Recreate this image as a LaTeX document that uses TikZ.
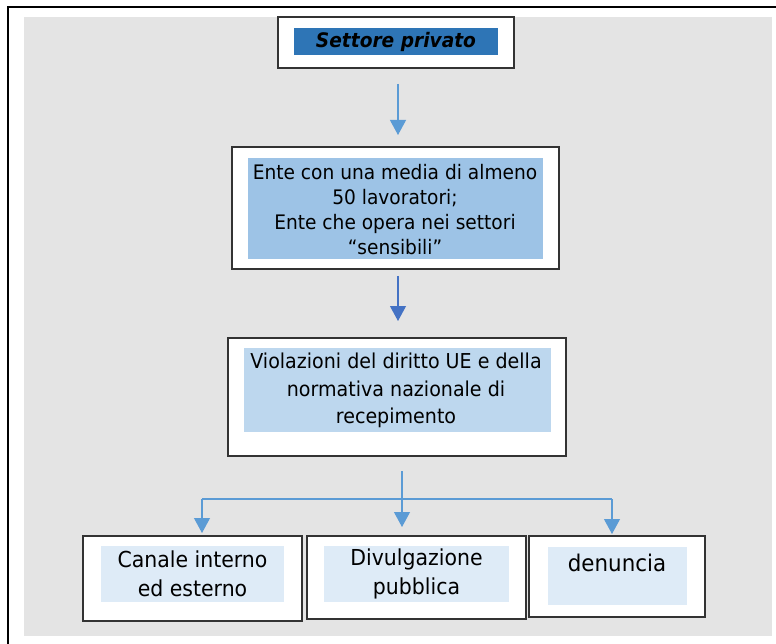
\documentclass[tikz,border=0pt]{standalone}
\usepackage{fontspec}
\setmainfont{DejaVu Sans}[FakeStretch=0.93, ItalicFont={DejaVu Sans Oblique}, BoldFont={DejaVu Sans Bold}, BoldItalicFont={DejaVu Sans Bold Oblique}]
\usetikzlibrary{arrows.meta}
\definecolor{bggray}{HTML}{E4E4E4}
\definecolor{dkblue}{HTML}{2E75B6}
\definecolor{midblue}{HTML}{9DC3E6}
\definecolor{ltblue}{HTML}{BDD7EE}
\definecolor{paleblue}{HTML}{DEEBF7}
\definecolor{arrblue}{HTML}{5B9BD5}
\definecolor{arrblue2}{HTML}{4472C4}
\begin{document}
\begin{tikzpicture}[x=1pt,y=-1pt,
  obox/.style={draw=black!80, line width=1.3pt, fill=white, inner sep=0pt, outer sep=0pt},
  ibox/.style={draw=none, inner sep=0pt, outer sep=0pt},
  txt/.style={inner sep=0pt, outer sep=0pt, align=center, text=black},
  conn/.style={draw=arrblue, line width=1.1pt},
  tip/.style={-{Triangle[width=16pt,length=15pt]}}
]
\useasboundingbox (0,0) rectangle (776,644);
% background
\fill[bggray] (24,17) rectangle (772,636);
\draw[line width=2.2pt] (8,644) -- (8,7) -- (776,7);

% box 1
\node[obox, minimum width=236pt, minimum height=51pt] (b1) at (396,42.5) {};
\node[ibox, fill=dkblue, minimum width=204pt, minimum height=27pt] (i1) at (396,41.5) {};
\node[txt, font=\fontsize{20}{24}\selectfont\bfseries\itshape] (t1) at (396,42) {Settore privato};

% box 2
\node[obox, minimum width=327pt, minimum height=122pt] (b2) at (395.5,208) {};
\node[ibox, fill=midblue, minimum width=295pt, minimum height=101pt] (i2) at (395.5,208.5) {};
\node[txt, font=\fontsize{20}{25}\selectfont] (t2) at (395,209.5) {Ente con una media di almeno\\50 lavoratori;\\Ente che opera nei settori\\\char"201C sensibili\char"201D};

% box 3
\node[obox, minimum width=338pt, minimum height=118pt] (b3) at (397,397) {};
\node[ibox, fill=ltblue, minimum width=307pt, minimum height=84pt] (i3) at (397.5,390) {};
\node[txt, font=\fontsize{20.5}{27.5}\selectfont] (t3) at (396,390.5) {Violazioni del diritto UE e della\\normativa nazionale di\\recepimento};

% bottom boxes
\node[obox, minimum width=219pt, minimum height=85pt] (b4) at (192.5,578.5) {};
\node[ibox, fill=paleblue, minimum width=183pt, minimum height=56pt] (i4) at (192.5,574) {};
\node[txt, font=\fontsize{22}{29}\selectfont] (t4) at (192.5,573.5) {Canale interno\\ed esterno};

\node[obox, minimum width=219pt, minimum height=83pt] (b5) at (416.5,577.5) {};
\node[ibox, fill=paleblue, minimum width=185pt, minimum height=56pt] (i5) at (416.5,574) {};
\node[txt, font=\fontsize{22}{29}\selectfont] (t5) at (416.5,573.5) {Divulgazione\\pubblica};

\node[obox, minimum width=176pt, minimum height=81pt] (b6) at (617,576.5) {};
\node[ibox, fill=paleblue, minimum width=139pt, minimum height=58pt] (i6) at (617.5,576) {};
\node[txt, font=\fontsize{23}{28}\selectfont] (t6) at (617,563) {denuncia};

% connectors
\coordinate (a1s) at (398,84);
\coordinate (a1e) at (398,135);
\coordinate (a2s) at (398,276);
\coordinate (a2e) at (398,321);
\coordinate (a3s) at (402,471);
\coordinate (jl) at (202,499);
\coordinate (jr) at (612,499);
\coordinate (tl) at (202,533);
\coordinate (tm) at (402,527);
\coordinate (tr) at (612,534);

\draw[conn, tip] (a1s) -- (a1e);
\draw[conn, draw=arrblue2, tip] (a2s) -- (a2e);
\draw[conn, tip] (a3s) -- (tm);
\draw[conn] (jl) -- (jr);
\draw[conn, tip] (jl) -- (tl);
\draw[conn, tip] (jr) -- (tr);
\end{tikzpicture}
\end{document}
